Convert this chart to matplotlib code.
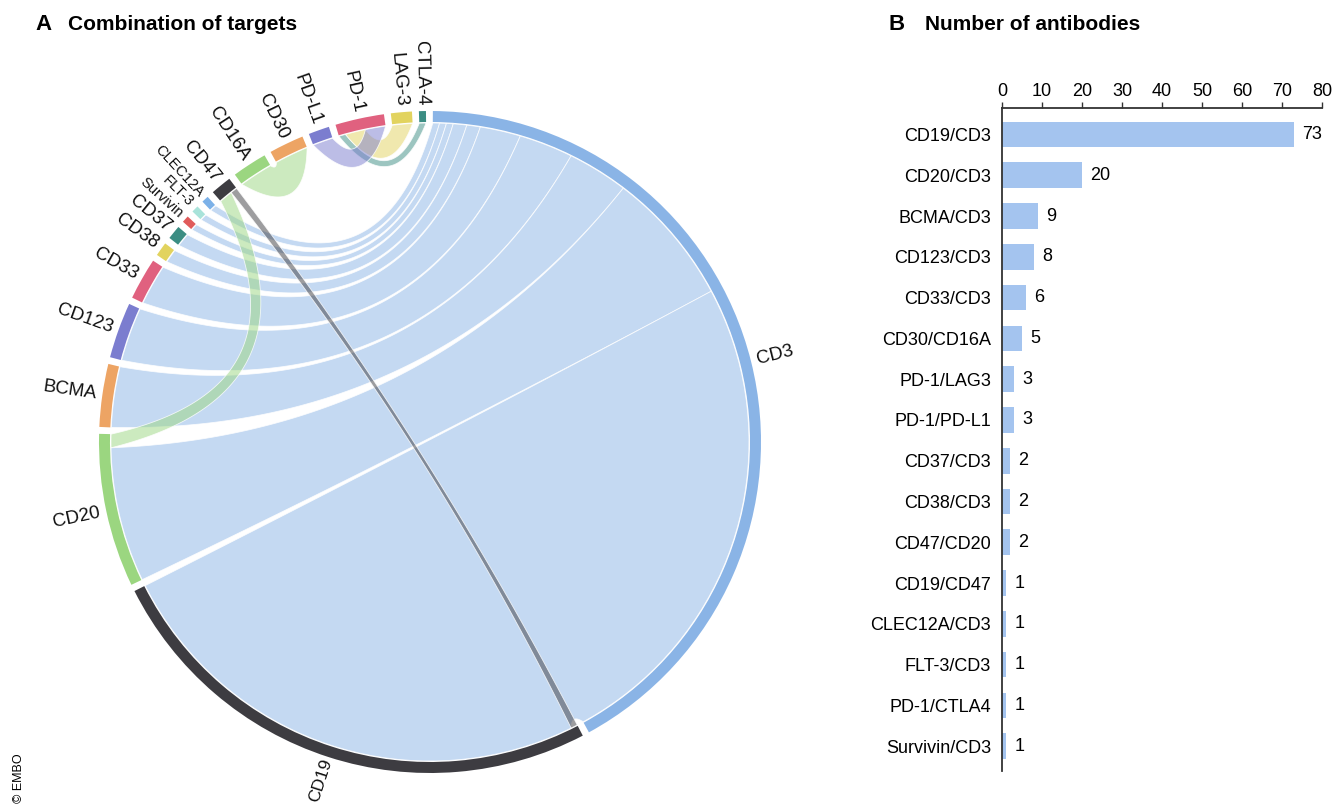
import numpy as np
import matplotlib.pyplot as plt
from matplotlib.patches import Wedge, Polygon
from matplotlib.colors import to_rgba

plt.rcParams['font.family'] = ['Liberation Sans', 'DejaVu Sans']

# antibody pairs (panel B), top to bottom
pair_labels = ["CD19/CD3", "CD20/CD3", "BCMA/CD3", "CD123/CD3", "CD33/CD3",
               "CD30/CD16A", "PD-1/LAG3", "PD-1/PD-L1", "CD37/CD3", "CD38/CD3",
               "CD47/CD20", "CD19/CD47", "CLEC12A/CD3", "FLT-3/CD3",
               "PD-1/CTLA4", "Survivin/CD3"]
antibody_counts = [73, 20, 9, 8, 6, 5, 3, 3, 2, 2, 2, 1, 1, 1, 1, 1]
pair_first = ["CD19", "CD20", "BCMA", "CD123", "CD33", "CD30", "PD-1", "PD-1",
              "CD37", "CD38", "CD47", "CD19", "CLEC12A", "FLT-3", "PD-1", "Survivin"]
pair_second = ["CD3", "CD3", "CD3", "CD3", "CD3", "CD16A", "LAG-3", "PD-L1",
               "CD3", "CD3", "CD20", "CD47", "CD3", "CD3", "CTLA-4", "CD3"]

# chord sectors, clockwise from the top
sectors = ["CD3", "CD19", "CD20", "BCMA", "CD123", "CD33", "CD38", "CD37",
           "Survivin", "FLT-3", "CLEC12A", "CD47", "CD16A", "CD30", "PD-L1",
           "PD-1", "LAG-3", "CTLA-4"]
sector_colors = ["#8ab4e6", "#3d3c41", "#9bd680", "#eda464", "#7b7dcf", "#e0617f",
                 "#e2d35e", "#3b8d83", "#e05b5b", "#a9e3da", "#7cb1e8", "#3d3c41",
                 "#9bd680", "#eda464", "#7b7dcf", "#e0617f", "#e2d35e", "#3b8d83"]
small_labels = ["Survivin", "FLT-3", "CLEC12A"]

# order in which links take their place inside each sector
chord_order = ["CLEC12A/CD3", "FLT-3/CD3", "Survivin/CD3", "CD37/CD3", "CD38/CD3",
               "CD33/CD3", "CD123/CD3", "BCMA/CD3", "CD20/CD3", "CD47/CD20",
               "CD19/CD47", "CD19/CD3", "CD30/CD16A", "PD-1/CTLA4", "PD-1/LAG3",
               "PD-1/PD-L1"]

W, H = 1333, 805
fig = plt.figure(figsize=(W / 100, H / 100), dpi=100)
ax = fig.add_axes([0, 0, 1, 1])
ax.set_xlim(0, W)
ax.set_ylim(0, H)
ax.axis("off")

CX, CY = 430, H - 442
R_OUT, R_IN, R_LINK = 331, 320, 319
GAP = 1.2
START = 89.5

colour = dict(zip(sectors, sector_colors))
totals = {s: 0 for s in sectors}
for a, b, n in zip(pair_first, pair_second, antibody_counts):
    totals[a] += n
    totals[b] += n
unit = (360 - GAP * len(sectors)) / sum(totals.values())

span = {}
ang = START
for s in sectors:
    span[s] = (ang, ang - totals[s] * unit)
    ang = span[s][1] - GAP


def pt(theta, r):
    t = np.radians(theta)
    return np.array([CX + r * np.cos(t), CY + r * np.sin(t)])


def arc(t1, t2, r, n=40):
    t = np.radians(np.linspace(t1, t2, n))
    return np.column_stack([CX + r * np.cos(t), CY + r * np.sin(t)])


def bezier(t1, t2, r, n=80):
    p0, p2 = pt(t1, r), pt(t2, r)
    d = abs(t1 - t2) % 360
    d = min(d, 360 - d)
    c0 = np.array([CX, CY])
    u = (p0 + p2) / 2 - c0
    norm = np.hypot(*u)
    rc = r * (1 - d / 180) ** 3
    c = c0 + (u / norm * rc if norm > 1e-6 else 0)
    s = np.linspace(0, 1, n)[:, None]
    return (1 - s) ** 2 * p0 + 2 * s * (1 - s) * c + s ** 2 * p2


# slots of each link inside its two sectors
cursor = {s: span[s][0] for s in sectors}
slots = {}
for lab in chord_order:
    i = pair_labels.index(lab)
    for s in (pair_first[i], pair_second[i]):
        hi = cursor[s]
        lo = hi - antibody_counts[i] * unit
        cursor[s] = lo
        slots[(lab, s)] = (hi, lo)

for lab in chord_order:
    i = pair_labels.index(lab)
    a, b = pair_first[i], pair_second[i]
    a_hi, a_lo = slots[(lab, a)]
    b_hi, b_lo = slots[(lab, b)]
    path = np.vstack([arc(a_hi, a_lo, R_LINK), bezier(a_lo, b_hi, R_LINK),
                      arc(b_hi, b_lo, R_LINK), bezier(b_lo, a_hi, R_LINK)])
    z = 1 if "CD3" in (a, b) else 2
    ax.add_patch(Polygon(path, closed=True, facecolor=to_rgba(colour[b], 0.5),
                         edgecolor=(1, 1, 1, 0.8), linewidth=0.6, zorder=z))

for s in sectors:
    hi, lo = span[s]
    ax.add_patch(Wedge((CX, CY), R_OUT, lo, hi, width=R_OUT - R_IN,
                       facecolor=colour[s], edgecolor="none", zorder=3))
    mid = (hi + lo) / 2
    m = (mid + 180) % 360 - 180
    size = 10.5 if s in small_labels else 13.5
    r_lab = 337
    if abs(m + 90) < 30:  # near the bottom edge of the figure
        size, r_lab = 12.5, 333
    x, y = pt(mid, r_lab)
    if -90 < m <= 90:
        rot, ha = m, "left"
    else:
        rot, ha = (m - 180 if m > 0 else m + 180), "right"
    ax.text(x, y, s, rotation=rot, rotation_mode="anchor", ha=ha, va="center",
            fontsize=size, color="#111111", zorder=4)

# panel titles
fig.text(35 / W, 1 - 25 / H, "A", fontsize=16, fontweight="bold", va="center")
fig.text(68 / W, 1 - 25 / H, "Combination of targets", fontsize=15,
         fontweight="bold", va="center")
fig.text(888 / W, 1 - 25 / H, "B", fontsize=16, fontweight="bold", va="center")
fig.text(925 / W, 1 - 25 / H, "Number of antibodies", fontsize=15,
         fontweight="bold", va="center")
fig.text(19 / W, 1 - 778 / H, "\u00a9 EMBO", rotation=90, fontsize=9,
         ha="center", va="center")

# bar chart
bx = fig.add_axes([1002 / W, 34 / H, 320 / W, 663 / H])
yy = np.arange(len(pair_labels))
bx.barh(yy, antibody_counts, height=0.63, color="#a4c4ef")
bx.set_xlim(0, 80)
bx.set_ylim(len(pair_labels) - 1 + 0.61, -0.65)
bx.xaxis.tick_top()
bx.set_xticks(range(0, 81, 10))
bx.set_yticks(yy, pair_labels)
bx.tick_params(axis="y", length=0, pad=8, labelsize=13)
bx.tick_params(axis="x", direction="out", length=4, labelsize=13, pad=2,
               color="#333333", width=1.0)
for side in ["right", "bottom"]:
    bx.spines[side].set_visible(False)
for side in ["left", "top"]:
    bx.spines[side].set_color("#333333")
    bx.spines[side].set_linewidth(1.3)
for v, yi in zip(antibody_counts, yy):
    bx.annotate(str(v), (v, yi), xytext=(6, 0), textcoords="offset points",
                va="center", fontsize=13)

fig.savefig("out.png", dpi=100)
